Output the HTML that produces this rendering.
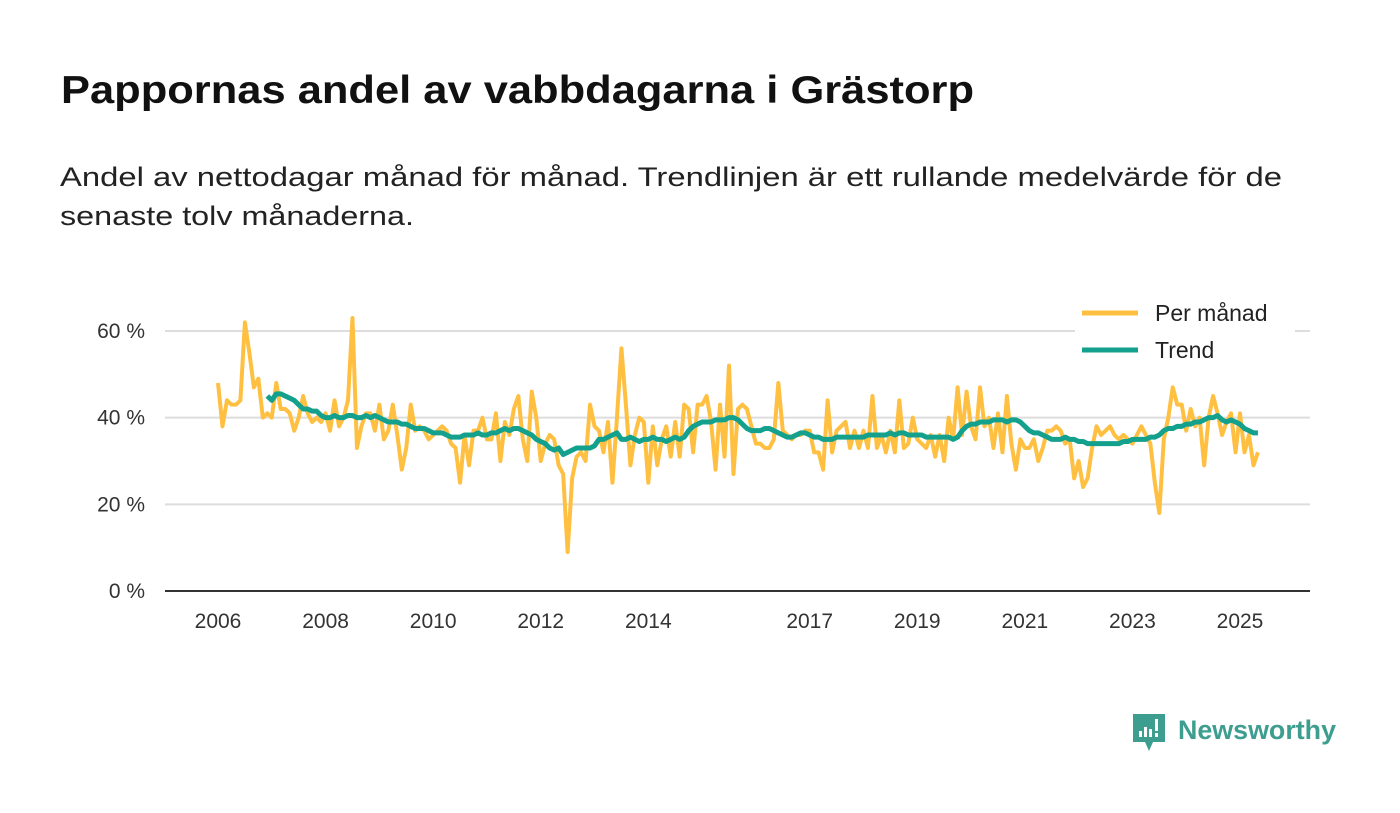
<!DOCTYPE html>
<html><head><meta charset="utf-8"><style>
html,body{margin:0;padding:0;background:#fff;}
svg{display:block;font-family:"Liberation Sans",sans-serif;}
</style></head><body>
<svg id="chart" width="1400" height="813" viewBox="0 0 1400 813" xmlns="http://www.w3.org/2000/svg">
<text x="61" y="103" font-size="39" font-weight="bold" fill="#111" textLength="913" lengthAdjust="spacingAndGlyphs">Pappornas andel av vabbdagarna i Grästorp</text>
<text x="60" y="186" font-size="27" fill="#222" textLength="1222" lengthAdjust="spacingAndGlyphs">Andel av nettodagar månad för månad. Trendlinjen är ett rullande medelvärde för de</text>
<text x="60" y="225" font-size="27" fill="#222" textLength="354" lengthAdjust="spacingAndGlyphs">senaste tolv månaderna.</text>
<g id="grid"></g>
<g id="yticks"></g>
<g id="xticks"></g>
<g id="series"></g>
<g>
<rect x="1075" y="298" width="220" height="68" fill="#fff"/>
<line x1="1082" y1="313" x2="1138" y2="313" stroke="#FFC042" stroke-width="5"/>
<text x="1155" y="321" font-size="23" fill="#222">Per månad</text>
<line x1="1082" y1="350" x2="1138" y2="350" stroke="#13A08D" stroke-width="5"/>
<text x="1155" y="358" font-size="23" fill="#222">Trend</text>
</g>
<g>
<path d="M1133 714 h32 v28 h-12 l-4 9 l-4 -9 h-12 z" fill="#3D9E90"/>
<rect x="1139" y="731" width="3" height="6" fill="#fff"/><rect x="1144" y="727" width="3" height="10" fill="#fff"/><rect x="1149" y="729" width="3" height="8" fill="#fff"/><rect x="1155" y="719" width="3" height="12" fill="#fff"/><rect x="1155" y="733" width="3" height="4" fill="#fff"/>
<text x="1178" y="739" font-size="27" font-weight="bold" fill="#3D9E90" textLength="158" lengthAdjust="spacingAndGlyphs">Newsworthy</text>
</g>
</svg>
<script>
const yTicks=[0,20,40,60];
const xTickYears=[2006,2008,2010,2012,2014,2017,2019,2021,2023,2025];
const startYear=2006;
const perMonth=[
48,38,44,43,43,44,62,55,47,49,40,41,
40,48,42,42,41,37,40,45,41,39,40,39,
41,37,44,38,40,44,63,33,38,41,41,37,
43,35,37,43,36,28,33,43,37,38,37,35,
36,37,38,37,34,33,25,36,29,37,37,40,
35,35,41,30,39,36,42,45,35,30,46,40,
30,34,36,35,29,27,9,26,31,32,30,43,
38,37,32,39,25,40,56,43,29,36,40,39,
25,38,29,35,38,31,39,31,43,42,32,43,
43,45,39,28,43,31,52,27,42,43,42,38,
34,34,33,33,35,48,37,36,35,36,36,37,
37,32,32,28,44,32,37,38,39,33,37,33,
37,33,45,33,36,32,37,32,44,33,34,40,
35,34,33,36,31,36,30,40,35,47,36,46,
38,35,47,38,40,33,41,32,45,34,28,35,
33,33,35,30,33,37,37,38,37,34,35,26,
30,24,26,33,38,36,37,38,36,35,36,35,
34,36,38,36,34,25,18,35,40,47,43,43,
37,42,38,40,29,40,45,41,36,39,41,32,
41,32,36,29,32];
const trendStartIndex=11;
const trend=[45,
44,45.5,45.5,45,44.5,44,43,42,42,41.5,41.5,40.5,
40,40,40.5,40,40,40.5,40.5,40,40,40.5,40,40.5,
40,39.5,39,39,39,38.5,38.5,38,37.5,37.5,37.5,37,
36.5,36.5,36.5,36,35.5,35.5,35.5,36,36,36,36.5,36,
36,36.5,36.5,37,37.5,37,37.5,37.5,37,36.5,36,35,
34.5,34,33,32.5,33,31.5,32,32.5,33,33,33,33,
33.5,35,35,35.5,36,36.5,35,35,35.5,35,34.5,35,
35,35.5,35,35,34.5,35,35.5,35,35.5,37,38,38.5,
39,39,39,39.5,39.5,39.5,40,40,39.5,38.5,37.5,37,
37,37,37.5,37.5,37,36.5,36,35.5,35.5,36,36.5,36.5,
36,35.5,35.5,35,35,35,35.5,35.5,35.5,35.5,35.5,35.5,
35.5,36,36,36,36,36,36.5,36,36.5,36.5,36,36,
36,36,35.5,35.5,35.5,35.5,35.5,35.5,35,35.5,37,38,
38.5,38.5,39,39,39,39.5,39.5,39.5,39,39.5,39.5,39,
38,37,36.5,36.5,36,35.5,35,35,35,35.5,35,35,
34.5,34.5,34,34,34,34,34,34,34,34,34.5,34.5,
35,35,35,35,35.5,35.5,36,37,37.5,37.5,38,38,
38.5,38.5,39,39,39.5,40,40,40.5,39.5,39,39.5,39,
38.5,37.5,37,36.5,36.5];

const NS='http://www.w3.org/2000/svg';
const x0=218,pxPerYear=(1240-218)/19;
function xScale(monthIndex){return x0+monthIndex*pxPerYear/12;}
function yScale(v){return 591-v*(591-331)/60;}
function mk(tag,attrs,parent){const e=document.createElementNS(NS,tag);for(const k in attrs)e.setAttribute(k,attrs[k]);parent.appendChild(e);return e;}
const grid=document.getElementById('grid'),yt=document.getElementById('yticks'),xt=document.getElementById('xticks'),ser=document.getElementById('series');
yTicks.forEach(v=>{
  const l=mk('line',{x1:165,x2:1310,y1:yScale(v),y2:yScale(v),stroke:v===0?'#333':'#ddd','stroke-width':2},grid);
  
  
  const t=mk('text',{x:145,y:yScale(v)+7,'font-size':21,fill:'#333','text-anchor':'end'},yt);
  t.textContent=v+' %';
  
  
});
xTickYears.forEach(yr=>{
  const x=xScale((yr-startYear)*12);
  const t=mk('text',{x:x,y:628,'font-size':21,fill:'#333','text-anchor':'middle'},xt);
  t.textContent=yr;
  
  
});
const p1=mk('polyline',{points:perMonth.map((v,i)=>xScale(i)+','+yScale(v)).join(' '),fill:'none',stroke:'#FFC042','stroke-width':4,'stroke-linejoin':'round'},ser);


const p2=mk('polyline',{points:trend.map((v,i)=>xScale(i+trendStartIndex)+','+yScale(v)).join(' '),fill:'none',stroke:'#13A08D','stroke-width':5,'stroke-linejoin':'round'},ser);


</script>
</body></html>
